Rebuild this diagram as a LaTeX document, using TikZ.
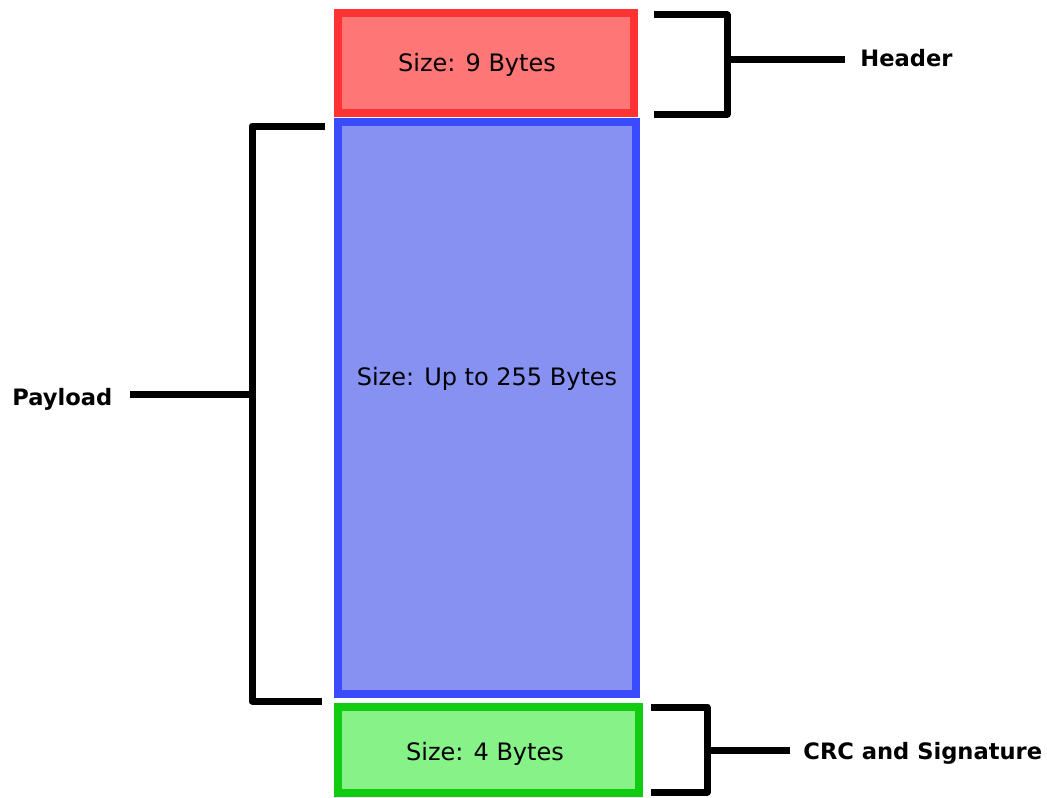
\documentclass[tikz,border=0pt]{standalone}
\usepackage{fontspec}
\setmainfont{DejaVu Sans}
\usetikzlibrary{positioning}
\definecolor{hdrfill}{HTML}{FF7676}
\definecolor{hdrline}{HTML}{FF3333}
\definecolor{payfill}{HTML}{8791F2}
\definecolor{payline}{HTML}{3A4BFF}
\definecolor{crcfill}{HTML}{87F287}
\definecolor{crcline}{HTML}{11CC11}
\begin{document}
\begin{tikzpicture}[x=0.5pt,y=-0.5pt,
  box/.style={draw,line width=4pt,inner sep=0pt},
  brace/.style={line width=3.5pt,line join=round},
  tag/.style={font=\bfseries\fontsize{11.3}{13}\selectfont,inner sep=0pt},
  size/.style={font=\fontsize{12}{14}\selectfont,inner sep=0pt,anchor=base}]
\useasboundingbox (0,0) rectangle (1047,797);
% the three parts of the frame
\node[box,draw=hdrline,fill=hdrfill,minimum width=148pt,minimum height=49.75pt] (hdr) at (486,63.25) {};
\node[box,draw=payline,fill=payfill,minimum width=149pt,minimum height=286pt] (pay) at (487.25,408) {};
\node[box,draw=crcline,fill=crcfill,minimum width=150.5pt,minimum height=43pt] (crc) at (488.5,750) {};
\node[size] (hdrsize) at (477,72) {Size: 9 Bytes};
\node[size] (paysize) at (487,385) {Size: Up to 255 Bytes};
\node[size] (crcsize) at (485,760) {Size: 4 Bytes};
% labels
\node[tag,anchor=base west] (hdrtag) at (860,67) {Header};
\node[tag,anchor=base west] (paytag) at (12,405) {Payload};
\node[tag,anchor=base west] (crctag) at (803,759) {CRC and Signature};
% brackets
\coordinate (hdrmid) at (727,60);
\coordinate (paymid) at (252,394);
\coordinate (crcmid) at (707,750);
\draw[brace] (654,15) -- (727,15) -- (727,114) -- (654,114);
\draw[brace] (325,126) -- (252,126) -- (252,701) -- (322,701);
\draw[brace] (651,707) -- (707,707) -- (707,792) -- (651,792);
\draw[brace,shorten >=7.5pt] (hdrmid) -- (hdrmid -| hdrtag.west);
\draw[brace,shorten >=8.5pt] (paymid) -- (paymid -| paytag.east);
\draw[brace,shorten >=6.5pt] (crcmid) -- (crcmid -| crctag.west);
\end{tikzpicture}
\end{document}
